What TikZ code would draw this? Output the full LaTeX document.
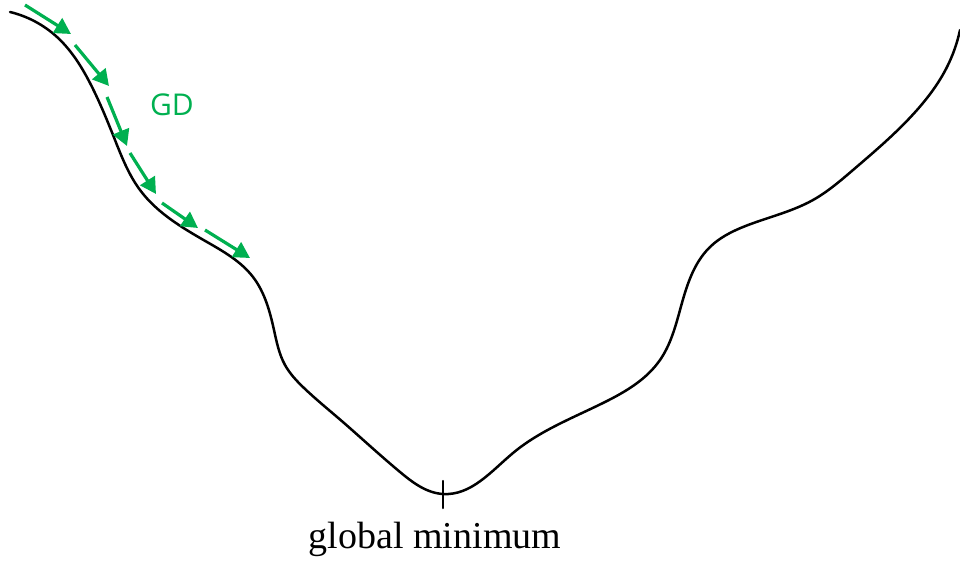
\documentclass[tikz,border=0pt]{standalone}
\usepackage{fontspec}
\setmainfont{Liberation Serif}
\newfontfamily\gdfont{Open Sans}
\usetikzlibrary{arrows.meta,hobby}
\definecolor{gdgreen}{RGB}{0,176,80}
\tikzset{
  curve/.style={line width=2.5pt, black, line join=round, line cap=round},
  gdarrow/.style={line width=3.2pt, gdgreen, -{Triangle[length=16pt,width=17pt]}},
}
\begin{document}
\begin{tikzpicture}[x=1pt,y=-1pt]
\useasboundingbox (0,0) rectangle (960,561);
\draw[curve, use Hobby shortcut]
 (10,12) .. (57,37) .. (90,83) .. (115,140) .. (140,190) .. (207,242) .. (253,277)
 .. (274,330) .. (285,365) .. (304,388) .. (340,419.5) .. (370,446) .. (400,472) .. (443,494)
 .. (513,453) .. (605,402) .. (660,360) .. (680,310) .. (710,247)
 .. (743,227) .. (813,200) .. (853,170) .. (917,110) .. (947,67) .. (960,30);
\draw[curve] (443,481) -- (443,508);
\node[anchor=base, font=\fontsize{38}{42}\selectfont] (lbl) at (435,548) {global minimum};
\node[font=\gdfont\fontsize{30}{34}\selectfont, text=gdgreen] (gd) at (172,105) {GD};
\coordinate (a1s) at (25,5);   \coordinate (a1e) at (71,34);
\coordinate (a2s) at (75,45);  \coordinate (a2e) at (109,86);
\coordinate (a3s) at (107,97); \coordinate (a3e) at (127,146);
\coordinate (a4s) at (130,153);\coordinate (a4e) at (156,194);
\coordinate (a5s) at (162,203);\coordinate (a5e) at (198,228);
\coordinate (a6s) at (205,230);\coordinate (a6e) at (250,258);
\foreach \i in {1,...,6} \draw[gdarrow] (a\i s) -- (a\i e);
\end{tikzpicture}
\end{document}
